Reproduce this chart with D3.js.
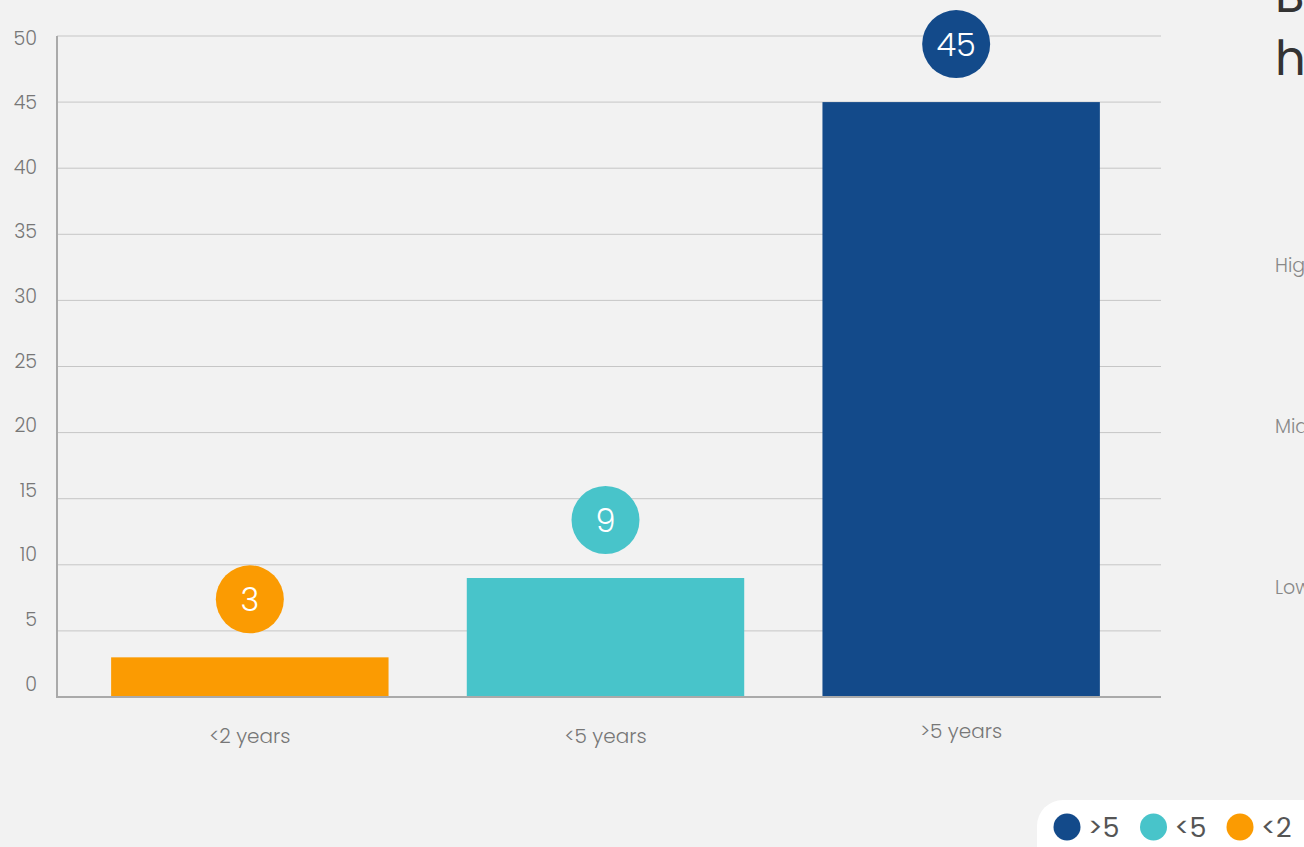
<!DOCTYPE html>
<html>
<head>
<meta charset="utf-8">
<script src="https://cdn.jsdelivr.net/npm/d3@7"></script>
<style>
  html, body { margin: 0; padding: 0; background: #f2f2f2; overflow: hidden; }
  svg { display: block; font-family: "Poppins", Lato, "Open Sans", sans-serif; }
</style>
</head>
<body>
<svg id="chart" width="1304" height="847"></svg>
<script>
const categories = ["<2 years", "<5 years", ">5 years"];
const values = [3, 9, 45];
const colors = ["#fb9b02", "#48c4ca", "#134a8a"];
const yTicks = [0, 5, 10, 15, 20, 25, 30, 35, 40, 45, 50];
const legendLabels = [">5", "<5", "<2"];
const legendColors = ["#134a8a", "#48c4ca", "#fb9b02"];
const sideTitle = ["B", "h"];
const sideLabels = ["High", "Mid", "Low"];

(function () {
const svg = d3.select("#chart");
svg.append("rect").attr("width", 1304).attr("height", 847).attr("fill", "#f2f2f2");

const mLeft = 57, mRight = 1161, mTop = 36, mBottom = 697;
const y = d3.scaleLinear().domain([0, 50]).range([mBottom, mTop]);
const yLabel = d3.scaleLinear().domain([0, 50]).range([684, 38]);
const x = d3.scaleBand().domain(categories).range([72, 1139]).paddingInner(0.22).paddingOuter(0.11);

// gridlines
svg.append("g").selectAll("line").data(yTicks.filter(d => d > 0)).join("line")
  .attr("x1", mLeft).attr("x2", mRight)
  .attr("y1", d => y(d)).attr("y2", d => y(d))
  .attr("stroke", "#c6c6c6").attr("stroke-width", 1);

// tick labels
svg.append("g").selectAll("text").data(yTicks).join("text")
  .attr("x", 37).attr("y", d => yLabel(d))
  .attr("text-anchor", "end").attr("dominant-baseline", "central")
  .attr("font-size", 19).attr("font-weight", 300).attr("fill", "#777")
  .text(d => d);

// bars
svg.append("g").selectAll("rect").data(values).join("rect")
  .attr("x", (d, i) => x(categories[i]))
  .attr("width", x.bandwidth())
  .attr("y", d => y(d))
  .attr("height", d => y(0) - y(d))
  .attr("fill", (d, i) => colors[i]);

// axes lines
svg.append("line").attr("x1", mLeft).attr("x2", mLeft).attr("y1", mTop).attr("y2", mBottom)
  .attr("stroke", "#aaa").attr("stroke-width", 2);
svg.append("line").attr("x1", mLeft - 1).attr("x2", mRight).attr("y1", mBottom).attr("y2", mBottom)
  .attr("stroke", "#aaa").attr("stroke-width", 2);

// category labels
svg.append("g").selectAll("text").data(categories).join("text")
  .attr("x", d => x(d) + x.bandwidth() / 2)
  .attr("y", (d, i) => i === 2 ? 731 : 736)
  .attr("text-anchor", "middle").attr("dominant-baseline", "central")
  .attr("font-size", 20).attr("font-weight", 300).attr("fill", "#777")
  .text(d => d);

// value bubbles
const bub = svg.append("g").selectAll("g").data(values).join("g")
  .attr("transform", (d, i) => `translate(${x(categories[i]) + x.bandwidth() / 2 - (i === 2 ? 5 : 0)},${y(d) - 58})`);
bub.append("circle").attr("r", 34).attr("fill", (d, i) => colors[i]);
bub.append("text").attr("text-anchor", "middle").attr("dominant-baseline", "central")
  .attr("font-size", 32).attr("font-weight", 300).attr("fill", "#fff")
  .text(d => d);

// right side texts (clipped by viewport)
svg.append("g").selectAll("text").data(sideTitle).join("text")
  .attr("x", 1275).attr("y", (d, i) => 12 + i * 63)
  .attr("font-size", 48).attr("fill", "#333")
  .text(d => d);
svg.append("g").selectAll("text").data(sideLabels).join("text")
  .attr("x", 1275).attr("y", (d, i) => 265 + i * 161)
  .attr("dominant-baseline", "central")
  .attr("font-size", 19).attr("font-weight", 300).attr("fill", "#888")
  .text(d => d);

// legend
const lg = svg.append("g");
lg.append("rect").attr("x", 1037).attr("y", 800).attr("width", 300).attr("height", 80).attr("rx", 26)
  .attr("fill", "#fff");
const items = lg.selectAll("g").data(legendLabels).join("g")
  .attr("transform", (d, i) => `translate(${1067 + i * 86.5},827)`);
items.append("circle").attr("r", 13.5).attr("fill", (d, i) => legendColors[i]);
items.append("text").attr("x", 21).attr("dominant-baseline", "central")
  .attr("font-size", 27).attr("fill", "#555").text(d => d);
})();
</script>
</body>
</html>
